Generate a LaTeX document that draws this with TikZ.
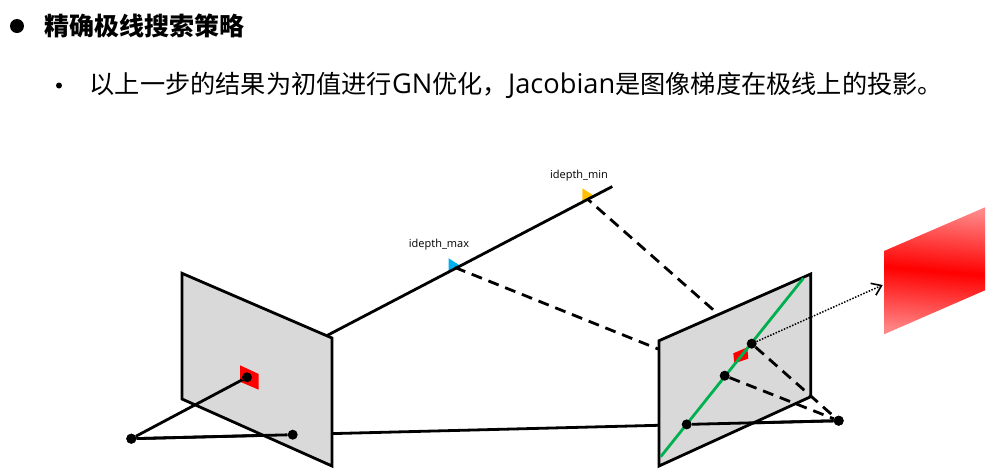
\documentclass[tikz,border=0pt]{standalone}
\usepackage{fontspec}
\usetikzlibrary{arrows.meta}
\setmainfont{Open Sans}
\newfontfamily\cjk{Noto Sans CJK SC}
\newfontfamily\lat[Scale=1.08]{Open Sans}

\definecolor{planegray}{HTML}{D9D9D9}
\definecolor{linegreen}{HTML}{00B050}
\definecolor{maxblue}{HTML}{00B0F0}
\definecolor{minyellow}{HTML}{FFC000}
\definecolor{fadered}{RGB}{255,135,135}

\begin{document}
\begin{tikzpicture}[
		x=1pt, y=-1pt,
		every node/.style={circle, fill, minimum size=10pt, inner sep=0pt},
		txt/.style={rectangle, fill=none, minimum size=0pt, anchor=west},
		plane/.style={draw, line width=2.8pt, fill=planegray},
		ray/.style={line width=2.8pt},
		dashray/.style={line width=2.8pt, dash pattern=on 11pt off 7pt}
	]
  \useasboundingbox (0,0) rectangle (1003,475);
  \node (bullet_a) [minimum size=14pt] at (17,26) {};
  \node (bullet_b) [minimum size=6pt] at (59,85.5) {};
  \node (title) [txt, font=\fontsize{25}{30}\selectfont\bfseries\cjk] at (44,26) {精确极线搜索策略};
  \node (body) [txt, font=\fontsize{25.2}{30}\selectfont] at (89.5,85) {{\cjk 以上一步的结果为初值进行}{\lat GN}{\cjk 优化，}{\lat Jacobian}{\cjk 是图像梯度在极线上的投影。}};
  \node (max_label) [txt, anchor=center, font=\fontsize{11}{12}\selectfont] at (439,245) {idepth\_max};
  \node (min_label) [txt, anchor=center, font=\fontsize{11}{12}\selectfont] at (579,176) {idepth\_min};

  % what runs behind the two planes
  \coordinate (ray_end) at (612.3,186.5);
  \coordinate (max_pt) at (455,267.5);
  \coordinate (min_pt) at (588,199.5);
  \fill [maxblue] (448.7,258.3) -- (460.7,266) -- (448.7,272.3) -- cycle;
  \fill [minyellow] (582.3,188.3) -- (594.3,196) -- (582.3,202.3) -- cycle;
  \node (c_l) at (131.3,438.7) {};
  \node (c_r) at (838.7,420.7) {};
  \node (p_l) at (247,377.3) {};
  \draw [ray] (p_l) -- (ray_end);
  \draw [ray] (c_l) -- (c_r);
  \draw [dashray] (max_pt) -- (724.7,375.7);
  \draw [dashray, dash phase=6.4pt] (min_pt) -- (751.7,343.7);

  % planes
  \draw [plane] (182,273.3) -- (332,338) -- (332,466) -- (182,399) -- cycle;
  \draw [plane] (659,340.7) -- (810.7,274) -- (810.7,396.7) -- (659,466) -- cycle;

  % patches
  \fill [red] (240,365.3) -- (258.7,374) -- (258.7,389.7) -- (240,381.7) -- cycle;
  \fill [red] (733.3,353.3) -- (747.3,347.3) -- (748.3,358.7) -- (734.3,363.3) -- cycle;
  \shade [top color=fadered, bottom color=fadered, middle color=red, shading angle=-5]
    (884,251) -- (985,207.3) -- (985,290.3) -- (884,334.3) -- cycle;

  % what runs in front of them
  \coordinate (line_a) at (660.7,456.7);
  \coordinate (line_b) at (803.3,278.3);
  \coordinate (arrow_end) at (882.7,285);
  \draw [linegreen, line width=2.8pt] (line_a) -- (line_b);
  \node (p_l) at (247,377.3) {};
  \node (c_l) at (131.3,438.7) {};
  \node (b_l) at (292.7,434.7) {};
  \node (b_r) at (686.7,424.4) {};
  \node (p_max) at (724.7,375.7) {};
  \node (p_min) at (751.7,343.7) {};
  \node (c_r) at (838.7,420.7) {};
  \draw [ray] (c_l) -- (p_l);
  \draw [ray] (c_l) -- (b_l);
  \draw [ray] (b_r) -- (c_r);
  \draw [dashray] (p_max) -- (c_r);
  \draw [dashray] (p_min) -- (c_r);
  \draw [line width=1.5pt, dash pattern=on 1.5pt off 1.5pt, -{Straight Barb[length=9pt, width=13pt, line width=1.6pt]}] (p_min) -- (arrow_end);
\end{tikzpicture}
\end{document}
